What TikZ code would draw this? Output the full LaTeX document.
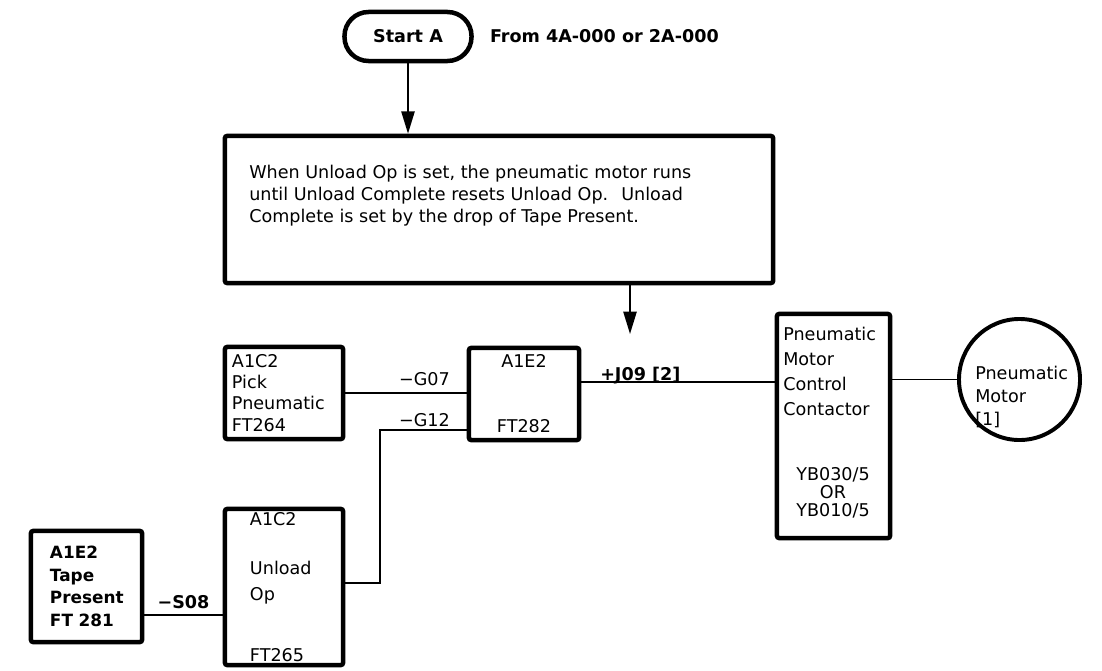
\documentclass[tikz,border=0pt]{standalone}
\usepackage{fontspec}
\setmainfont{DejaVu Sans}
\usetikzlibrary{arrows.meta, positioning}
\newcommand{\diagfont}{\fontsize{12.5}{15}\selectfont}

\begin{document}
\begin{tikzpicture}[x=0.025cm, y=-0.025cm, >={Triangle[length=5.6mm, width=3.3mm]},
  box/.style={draw, line width=3.2pt, rounded corners=1.5pt, inner sep=0pt, align=left, font=\diagfont},
  terminal/.style={draw, line width=3.2pt, rounded corners=0.6cm, minimum width=3.175cm,
    minimum height=1.225cm, font=\diagfont\bfseries},
  wire/.style={line width=1.4pt},
  txt/.style={inner sep=0pt, align=left, font=\diagfont},
  tag/.style={inner sep=0pt, font=\diagfont}]
  \useasboundingbox (0,0) rectangle (1102,670);

  \node[terminal] (start) at (408,36.5) {Start A};
  \node[txt, font=\diagfont\bfseries, right=0.4cm of start] (source) {From 4A-000 or 2A-000};

  \node[box, minimum width=13.7cm, minimum height=3.675cm] (note) at (499,209.5) {};
  \node[txt, font=\fontsize{12.5}{15.6}\selectfont, anchor=north west] (notetext) at (249,165)
    {When Unload Op is set, the pneumatic motor runs\\
     until Unload Complete resets Unload Op.~ Unload\\
     Complete is set by the drop of Tape Present.};

  \node[box, minimum width=2.95cm, minimum height=2.3cm, text width=2.6cm] (pick) at (284,393)
    {A1C2\\Pick\\Pneumatic\\FT264};
  \node[box, align=center, minimum width=2.75cm, minimum height=2.3cm] (gate) at (524,394)
    {A1E2\\[1.1cm]FT282};
  \node[box, minimum width=2.95cm, minimum height=3.9cm, text width=1.7cm] (unload) at (284,587)
    {A1C2\\[0.7cm]Unload\\[0.12cm]Op\\[1cm]FT265};
  \node[box, minimum width=2.775cm, minimum height=2.775cm, text width=1.825cm,
    font=\fontsize{12}{16}\selectfont\bfseries] (tape) at (86.5,586.5)
    {A1E2\\Tape\\Present\\FT 281};

  \node[box, minimum width=2.825cm, minimum height=5.6cm] (contactor) at (833.5,426) {};
  \node[txt, font=\fontsize{12.5}{17.7}\selectfont, anchor=north west] (cctext) at (783,327)
    {Pneumatic\\Motor\\Control\\Contactor};
  \node[txt, align=center, font=\fontsize{12.5}{13}\selectfont, anchor=north] (ccparts) at (833,467)
    {YB030/5\\OR\\YB010/5};

  \node[draw, circle, line width=2.8pt, minimum size=3.025cm, inner sep=0pt] (motor) at (1019.5,379.5) {};
  \node[txt, font=\fontsize{12.5}{16.3}\selectfont, anchor=north west] (motortext) at (975,366)
    {Pneumatic\\Motor\\{[1]}};

  \coordinate (drop) at (630,334);
  \coordinate (jog) at (380,430);
  \coordinate (g12) at ([yshift=0.1cm]unload.east);
  \coordinate (j09) at ([yshift=0.3cm]gate.east);
  \coordinate (s08) at ([yshift=-0.7cm]tape.east);

  \draw[wire, ->] (start.south) -- (start.south |- note.north);
  \draw[wire, ->] (note.south -| drop) -- (drop);
  \draw[wire] (pick.east) -- (pick.east -| gate.west)
    node[tag, anchor=base east, xshift=-0.4cm, yshift=0.2cm] {−G07};
  \draw[wire] (g12) -| (jog) -- (jog -| gate.west)
    node[tag, anchor=base east, xshift=-0.4cm, yshift=0.08cm] {−G12};
  \draw[wire] (s08) -- (s08 -| unload.west)
    node[tag, font=\diagfont\bfseries, midway, anchor=base, yshift=0.16cm] {−S08};
  \draw[wire] (j09) -- (j09 -| contactor.west)
    node[tag, font=\diagfont\bfseries, pos=0, anchor=base west, xshift=0.45cm, yshift=0.05cm] {+J09 [2]};
  \draw[wire] (motor.west -| contactor.east) -- (motor.west);
\end{tikzpicture}
\end{document}
